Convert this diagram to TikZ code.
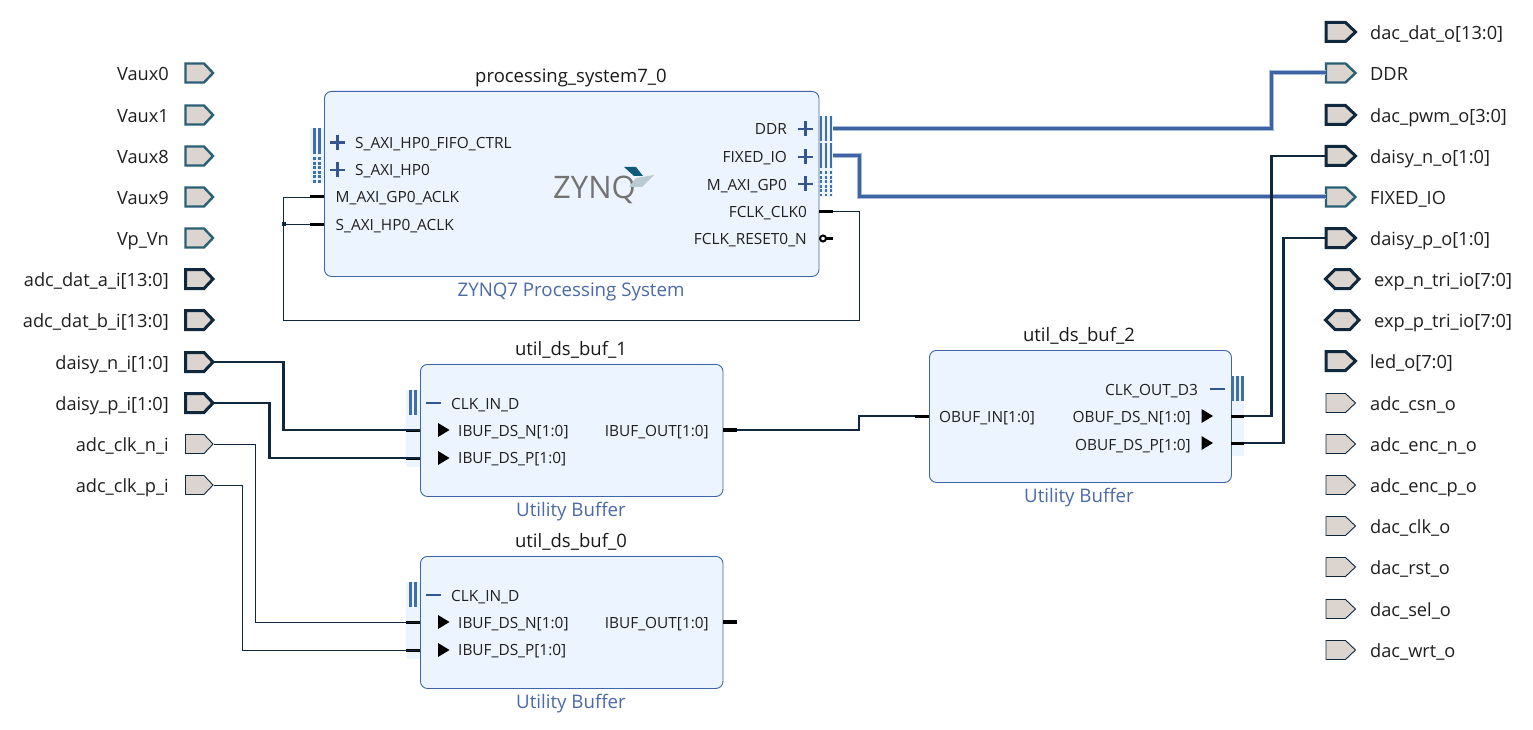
\documentclass[tikz,border=0pt]{standalone}
\usepackage{fontspec}
\setmainfont{Open Sans}
\definecolor{blockfill}{HTML}{ECF5FF}
\definecolor{blockline}{HTML}{3D65A8}
\definecolor{band}{HTML}{ECF5FF}
\definecolor{portfill}{HTML}{DCD4CF}
\definecolor{navy}{HTML}{10283E}
\definecolor{teal1}{HTML}{2A6075}
\definecolor{busblue}{HTML}{3F64A6}
\definecolor{halo}{HTML}{A9BBDA}
\definecolor{barblue}{HTML}{3F6FA8}
\definecolor{pinblue}{HTML}{34558F}
\definecolor{sub}{HTML}{4A6AA8}
\definecolor{logoa}{HTML}{0F5A78}
\definecolor{logob}{HTML}{B9CAD3}
\tikzset{
  blockbox/.style={draw=blockline,fill=blockfill,rounded corners=7pt,line width=.9pt,inner sep=0},
  lab/.style={font=\fontsize{18.2}{20}\selectfont,text=black!88,inner sep=0},
  pinlab/.style={font=\fontsize{15.4}{17}\selectfont,text=black!88,inner sep=0},
  title/.style={font=\fontsize{18.5}{20}\selectfont,text=black!90,inner sep=0},
  subtitle/.style={font=\fontsize{18.7}{20}\selectfont,text=sub,inner sep=0},
  thickport/.style={draw=navy,fill=portfill,line width=3pt},
  ifport/.style={draw=teal1,fill=portfill,line width=2.4pt},
  thinport/.style={draw=navy,fill=portfill,line width=.9pt},
  buswire/.style={draw=navy,line width=2.6pt},
  thinwire/.style={draw=navy,line width=.9pt},
  stub/.style={draw=black,line width=3pt},
  hwire/.style={draw=halo,line width=5pt},
  bwire/.style={draw=busblue,line width=3pt},
  bar/.style={draw=barblue,line width=2.4pt},
  dotbar/.style={draw=barblue,line width=2.4pt,dash pattern=on 3pt off 1.6pt},
  pinmark/.style={draw=pinblue,line width=2.6pt},
}
\newcommand\inport[4]{%
  \draw[#4] (185.5,#2-9.5) -- (204,#2-9.5) -- (213,#2) -- (204,#2+9.5) -- (185.5,#2+9.5) -- cycle;
  \coordinate (#1) at (213.5,#2);
  \node[lab,anchor=base east] (#1-l) at (169,#2+7.2) {#3};}
\newcommand\outport[4]{%
  \draw[#4] (1326,#2-9.5) -- (1345.5,#2-9.5) -- (1355.5,#2) -- (1345.5,#2+9.5) -- (1326,#2+9.5) -- cycle;
  \coordinate (#1) at (1326,#2);
  \node[lab,anchor=base west] (#1-l) at (1370,#2+7.2) {#3};}
\newcommand\ioport[3]{%
  \draw[thickport] (1325.5,#2) -- (1335,#2-9.5) -- (1350,#2-9.5) -- (1359,#2) -- (1350,#2+9.5) -- (1335,#2+9.5) -- cycle;
  \node[lab,anchor=base west] (#1-l) at (1374,#2+7.2) {#3};}
\newcommand\plusmark[2]{\draw[pinmark] (#1-7.5,#2) -- (#1+7.5,#2) (#1,#2-7.5) -- (#1,#2+7.5);}
\newcommand\minusmark[2]{\draw[pinmark] (#1-7.5,#2) -- (#1+7.5,#2);}
\newcommand\trimark[2]{\fill[black] (#1-5.5,#2-7) -- (#1+6,#2) -- (#1-5.5,#2+7) -- cycle;}
% node name, top y, title
\newcommand\ubuf[3]{%
  \fill[band] (406,#2+26) rectangle (420,#2+103);
  \node[blockbox,minimum width=302.5pt,minimum height=132pt,anchor=north west] (#1) at (420,#2) {};
  \node[title,anchor=base] (#1-t) at (571,#2-9) {#3};
  \node[subtitle,anchor=base] (#1-s) at (571,#2+152) {Utility Buffer};
  \draw[bar] (410.5,#2+26) -- (410.5,#2+51) (415.5,#2+26) -- (415.5,#2+51);
  \minusmark{433.5}{#2+39}
  \node[pinlab,anchor=base west] (#1-clk) at (451,#2+45) {CLK\_IN\_D};
  \trimark{443.5}{#2+66}
  \node[pinlab,anchor=base west] (#1-n) at (458,#2+72) {IBUF\_DS\_N[1:0]};
  \trimark{443.5}{#2+94}
  \node[pinlab,anchor=base west] (#1-p) at (458,#2+99.5) {IBUF\_DS\_P[1:0]};
  \node[pinlab,anchor=base east] (#1-o) at (709,#2+72) {IBUF\_OUT[1:0]};
  \coordinate (#1-in) at (420,#2+66);
  \coordinate (#1-ip) at (420,#2+94);
  \coordinate (#1-out) at (723,#2+66);
  \draw[stub] (406,#2+66) -- (420,#2+66) (406,#2+94) -- (420,#2+94);
  \draw[stub,line width=3.6pt] (723,#2+66) -- (737,#2+66);
}
\begin{document}
\begin{tikzpicture}[x=1pt,y=-1pt]
\useasboundingbox (0,0) rectangle (1533,730);
\fill[white] (0,0) rectangle (1533,730);

% ---- system block
\fill[band] (310,128) rectangle (324,183);
\fill[band] (819,116) rectangle (833,197);
\node[blockbox,minimum width=494.5pt,minimum height=185pt,anchor=north west] (ps) at (324,91) {};
\node[title,anchor=base] (ps-t) at (571,83) {processing\_system7\_0};
\node[subtitle,anchor=base] (ps-s) at (571,296) {ZYNQ7 Processing System};

\draw[bar] (314.5,128) -- (314.5,154) (319.5,128) -- (319.5,154);
\draw[dotbar] (314.5,157) -- (314.5,183) (319.5,157) -- (319.5,183);
\plusmark{337.5}{142.5}
\plusmark{337.5}{170}
\node[pinlab,anchor=base west] (ps-a) at (355,148.5) {S\_AXI\_HP0\_FIFO\_CTRL};
\node[pinlab,anchor=base west] (ps-b) at (355,176) {S\_AXI\_HP0};
\node[pinlab,anchor=base west] (ps-c) at (335.5,203) {M\_AXI\_GP0\_ACLK};
\node[pinlab,anchor=base west] (ps-d) at (335.5,230.5) {S\_AXI\_HP0\_ACLK};
\coordinate (ps-gp) at (324,197);
\coordinate (ps-hp) at (324,224);

\draw[bar] (821,116) -- (821,141) (826,116) -- (826,141) (831,116) -- (831,141);
\draw[bar] (821,143) -- (821,168) (826,143) -- (826,168) (831,143) -- (831,168);
\draw[dotbar] (821,171) -- (821,196) (826,171) -- (826,196) (831,171) -- (831,196);
\plusmark{805.5}{129}
\plusmark{805.5}{157}
\plusmark{805.5}{184}
\node[pinlab,anchor=base east] (ps-e) at (787,134.5) {DDR};
\node[pinlab,anchor=base east] (ps-f) at (787,162.5) {FIXED\_IO};
\node[pinlab,anchor=base east] (ps-g) at (787,190) {M\_AXI\_GP0};
\node[pinlab,anchor=base east] (ps-h) at (807,217) {FCLK\_CLK0};
\node[pinlab,anchor=base east] (ps-i) at (807,244.5) {FCLK\_RESET0\_N};
\coordinate (ps-ddr) at (833,128.3);
\coordinate (ps-fix) at (833,156);
\coordinate (ps-clk) at (819,211);
\draw[black,line width=2pt] (823,238.5) circle (3pt);
\draw[black,line width=2.4pt] (826,238.5) -- (833,238.5);

% logo
\node[anchor=base west,inner sep=0,text=black!55,font=\fontsize{31}{34}\selectfont] (zynq) at (553,198) {ZYNQ};
\fill[logoa] (624,167) -- (636,167) -- (643,176) -- (634,176) -- cycle;
\fill[logob] (636,178) -- (654,175) -- (642,187) -- (629,187) -- cycle;

% ---- utility buffers
\ubuf{ubufa}{364}{util\_ds\_buf\_1}
\ubuf{ubufb}{556}{util\_ds\_buf\_0}

\fill[band] (1231,376) rectangle (1244,456);
\node[blockbox,minimum width=302pt,minimum height=132pt,anchor=north west] (ubufc) at (929,350) {};
\node[title,anchor=base] (ubufc-t) at (1079,341) {util\_ds\_buf\_2};
\node[subtitle,anchor=base] (ubufc-s) at (1079,502) {Utility Buffer};
\draw[bar] (1232.5,376) -- (1232.5,401) (1237.5,376) -- (1237.5,401) (1242.5,376) -- (1242.5,401);
\minusmark{1217.5}{389}
\trimark{1207}{416}
\trimark{1207}{443}
\node[pinlab,anchor=base west] (ubufc-i) at (939,422.5) {OBUF\_IN[1:0]};
\node[pinlab,anchor=base east] (ubufc-d) at (1198,395) {CLK\_OUT\_D3};
\node[pinlab,anchor=base east] (ubufc-n) at (1191,422.5) {OBUF\_DS\_N[1:0]};
\node[pinlab,anchor=base east] (ubufc-p) at (1191,450) {OBUF\_DS\_P[1:0]};
\coordinate (ubufc-in) at (929,416);
\coordinate (ubufc-on) at (1231,416);
\coordinate (ubufc-op) at (1231,443);

% ---- ports
\inport{vaux0}{73}{Vaux0}{ifport}
\inport{vaux1}{115}{Vaux1}{ifport}
\inport{vaux8}{156}{Vaux8}{ifport}
\inport{vaux9}{197}{Vaux9}{ifport}
\inport{vpvn}{238}{Vp\_Vn}{ifport}
\inport{adca}{279}{adc\_dat\_a\_i[13:0]}{thickport}
\inport{adcb}{320}{adc\_dat\_b\_i[13:0]}{thickport}
\inport{dni}{362}{daisy\_n\_i[1:0]}{thickport}
\inport{dpi}{403}{daisy\_p\_i[1:0]}{thickport}
\inport{cni}{444}{adc\_clk\_n\_i}{thinport}
\inport{cpi}{485}{adc\_clk\_p\_i}{thinport}

\outport{ddato}{32}{dac\_dat\_o[13:0]}{thickport}
\outport{ddr}{73}{DDR}{ifport}
\outport{dpwm}{115}{dac\_pwm\_o[3:0]}{thickport}
\outport{dno}{156}{daisy\_n\_o[1:0]}{thickport}
\outport{fix}{197}{FIXED\_IO}{ifport}
\outport{dpo}{238}{daisy\_p\_o[1:0]}{thickport}
\ioport{expn}{279}{exp\_n\_tri\_io[7:0]}
\ioport{expp}{320}{exp\_p\_tri\_io[7:0]}
\outport{led}{361}{led\_o[7:0]}{thickport}
\outport{csn}{403}{adc\_csn\_o}{thinport}
\outport{enn}{444}{adc\_enc\_n\_o}{thinport}
\outport{enp}{485}{adc\_enc\_p\_o}{thinport}
\outport{dclk}{526}{dac\_clk\_o}{thinport}
\outport{drst}{567}{dac\_rst\_o}{thinport}
\outport{dsel}{609}{dac\_sel\_o}{thinport}
\outport{dwrt}{650}{dac\_wrt\_o}{thinport}

% ---- connectors
\draw[hwire] (ps-ddr) -- (1271.5,128.3) -- (1271.5,73) -- (ddr);
\draw[bwire] (ps-ddr) -- (1271.5,128.3) -- (1271.5,73) -- (ddr);
\draw[hwire] (ps-fix) -- (859.5,156) -- (859.5,197) -- (fix);
\draw[bwire] (ps-fix) -- (859.5,156) -- (859.5,197) -- (fix);

\draw[buswire] (dni) -- (283.5,362) -- (283.5,430) -- (ubufa-in);
\draw[buswire] (dpi) -- (269.5,403) -- (269.5,458) -- (ubufa-ip);
\draw[thinwire] (cni) -- (255.5,444) -- (255.5,622) -- (ubufb-in);
\draw[thinwire] (cpi) -- (242.5,485) -- (242.5,650) -- (ubufb-ip);
\draw[buswire] (ubufa-out) -- (859,430) -- (859,416) -- (ubufc-in);
\draw[buswire] (ubufc-on) -- (1271.5,416) -- (1271.5,156) -- (dno);
\draw[buswire] (ubufc-op) -- (1283.5,443) -- (1283.5,238) -- (dpo);
\draw[thinwire] (ps-clk) -- (859.5,211) -- (859.5,320) -- (283.5,320) -- (283.5,197) -- (ps-gp);
\draw[thinwire] (283.5,224) -- (ps-hp);
\fill[navy] (281.5,222) rectangle (285.5,226);

% ---- black stubs on the pins
\draw[stub] (310,197) -- (ps-gp) (310,224) -- (ps-hp);
\draw[stub] (ps-clk) -- (833,211);
\draw[stub] (ubufc-in) ++(-14,0) -- (ubufc-in);
\draw[stub] (ubufc-on) -- ++(13,0);
\draw[stub] (ubufc-op) -- ++(13,0);
\draw[stub,line width=3.6pt] (ubufa-out) -- ++(14,0);
\end{tikzpicture}
\end{document}
